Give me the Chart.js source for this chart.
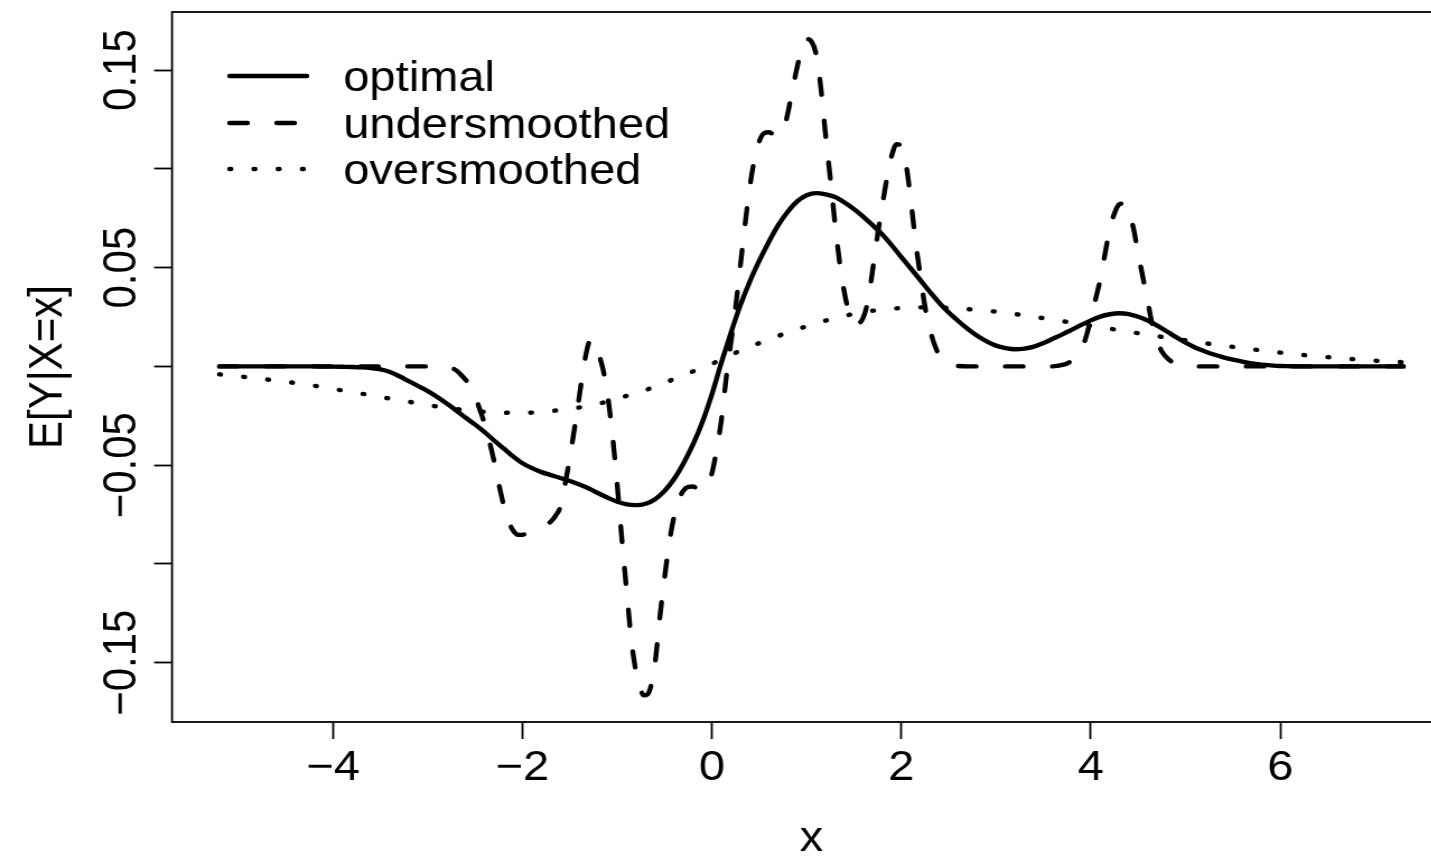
<!DOCTYPE html>
<html>
<head>
<meta charset="utf-8">
<title>E[Y|X=x]</title>
<script src="https://cdn.jsdelivr.net/npm/chart.js@4.4.1/dist/chart.umd.min.js"></script>
<style>
  html, body { margin: 0; padding: 0; background: #fff; overflow: hidden; }
  #wrap { position: relative; width: 1431px; height: 856px; overflow: hidden; }
  /* the reference picture is stretched sideways, so the canvas is too */
  #plot { position: absolute; left: 0; top: 0; transform: scaleX(1.12); transform-origin: 0 0; }
</style>
</head>
<body>
<div id="wrap"><canvas id="plot" width="1320" height="856"></canvas></div>
<script>
// ---- data ----
var xGrid = [
  -5.2, -5.1, -5.0, -4.9, -4.8, -4.7, -4.6, -4.5, -4.4, -4.3,
  -4.2, -4.1, -4.0, -3.9, -3.8, -3.7, -3.6, -3.5, -3.4, -3.3,
  -3.2, -3.1, -3.0, -2.9, -2.8, -2.7, -2.6, -2.5, -2.4, -2.3,
  -2.2, -2.1, -2.0, -1.9, -1.8, -1.7, -1.6, -1.5, -1.4, -1.3,
  -1.2, -1.1, -1.0, -0.9, -0.8, -0.7, -0.6, -0.5, -0.4, -0.3,
  -0.2, -0.1, 0.0, 0.1, 0.2, 0.3, 0.4, 0.5, 0.6, 0.7,
  0.8, 0.9, 1.0, 1.1, 1.2, 1.3, 1.4, 1.5, 1.6, 1.7,
  1.8, 1.9, 2.0, 2.1, 2.2, 2.3, 2.4, 2.5, 2.6, 2.7,
  2.8, 2.9, 3.0, 3.1, 3.2, 3.3, 3.4, 3.5, 3.6, 3.7,
  3.8, 3.9, 4.0, 4.1, 4.2, 4.3, 4.4, 4.5, 4.6, 4.7,
  4.8, 4.9, 5.0, 5.1, 5.2, 5.3, 5.4, 5.5, 5.6, 5.7,
  5.8, 5.9, 6.0, 6.1, 6.2, 6.3, 6.4, 6.5, 6.6, 6.7,
  6.8, 6.9, 7.0, 7.1, 7.2, 7.3
];

var optimalY = [
  0, 0, 0, 0, 0, 0, 0, 0, 0, 0,
  0, -0.0001, -0.0001, -0.0002, -0.0003, -0.0005, -0.0009, -0.0015, -0.0028, -0.0050,
  -0.0075, -0.0100, -0.0125, -0.0155, -0.0188, -0.0223, -0.0260, -0.0295, -0.0333, -0.0375,
  -0.0415, -0.0455, -0.0490, -0.0515, -0.0535, -0.0550, -0.0565, -0.0580, -0.0598, -0.0618,
  -0.0642, -0.0665, -0.0685, -0.0698, -0.0702, -0.0695, -0.0672, -0.0630, -0.0570, -0.0490,
  -0.0395, -0.0280, -0.0140, 0.0020, 0.0170, 0.0310, 0.0430, 0.0535, 0.0630, 0.0715,
  0.0783, 0.0835, 0.0866, 0.0877, 0.0871, 0.0857, 0.0830, 0.0796, 0.0757, 0.0713,
  0.0667, 0.0612, 0.0553, 0.0495, 0.0437, 0.0378, 0.0322, 0.0273, 0.0230, 0.0190,
  0.0155, 0.0127, 0.0105, 0.0093, 0.0087, 0.0090, 0.0100, 0.0118, 0.0140, 0.0162,
  0.0186, 0.0210, 0.0233, 0.0252, 0.0264, 0.0269, 0.0265, 0.0251, 0.0232, 0.0207,
  0.0178, 0.0148, 0.0120, 0.0096, 0.0077, 0.0060, 0.0046, 0.0034, 0.0024, 0.0015,
  0.0009, 0.0005, 0.0002, 0.0001, 0, 0, 0, 0, 0, 0,
  0, 0, 0, 0, 0, 0
];

var oversmoothedY = [
  -0.0040, -0.0045, -0.0050, -0.0055, -0.0060, -0.0066, -0.0072, -0.0078, -0.0084, -0.0091,
  -0.0098, -0.0106, -0.0114, -0.0122, -0.0130, -0.0138, -0.0146, -0.0155, -0.0163, -0.0171,
  -0.0179, -0.0187, -0.0196, -0.0203, -0.0210, -0.0216, -0.0221, -0.0226, -0.0230, -0.0232,
  -0.0234, -0.0235, -0.0235, -0.0234, -0.0231, -0.0226, -0.0221, -0.0215, -0.0208, -0.0200,
  -0.0190, -0.0177, -0.0163, -0.0149, -0.0135, -0.0120, -0.0102, -0.0083, -0.0064, -0.0045,
  -0.0025, -0.0005, 0.0013, 0.0036, 0.0058, 0.0079, 0.0099, 0.0118, 0.0136, 0.0154,
  0.0172, 0.0188, 0.0203, 0.0218, 0.0232, 0.0245, 0.0256, 0.0266, 0.0275, 0.0282,
  0.0288, 0.0292, 0.0296, 0.0298, 0.0299, 0.0299, 0.0298, 0.0296, 0.0293, 0.0290,
  0.0286, 0.0282, 0.0277, 0.0271, 0.0265, 0.0258, 0.0251, 0.0244, 0.0236, 0.0229,
  0.0222, 0.0214, 0.0206, 0.0198, 0.0191, 0.0183, 0.0175, 0.0168, 0.0160, 0.0153,
  0.0146, 0.0139, 0.0132, 0.0125, 0.0118, 0.0111, 0.0105, 0.0099, 0.0093, 0.0087,
  0.0081, 0.0076, 0.0070, 0.0065, 0.0060, 0.0055, 0.0051, 0.0047, 0.0043, 0.0039,
  0.0036, 0.0032, 0.0029, 0.0026, 0.0024, 0.0021
];

// the undersmoothed curve is wiggly, so it gets its own finer x list
var underX = [
  -5.2, -4.0, -3.0, -2.85, -2.8, -2.75, -2.7, -2.65, -2.6, -2.55,
  -2.5, -2.45, -2.4, -2.35, -2.3, -2.25, -2.2, -2.15, -2.1, -2.05,
  -2.0, -1.95, -1.9, -1.85, -1.8, -1.75, -1.7, -1.65, -1.6, -1.55,
  -1.5, -1.45, -1.4, -1.35, -1.3, -1.27, -1.24, -1.2, -1.15, -1.1,
  -1.05, -1.0, -0.95, -0.9, -0.85, -0.8, -0.75, -0.72, -0.68, -0.64,
  -0.6, -0.55, -0.5, -0.45, -0.4, -0.35, -0.3, -0.25, -0.2, -0.15,
  -0.1, -0.05, 0.0, 0.05, 0.1, 0.15, 0.2, 0.25, 0.3, 0.35,
  0.4, 0.45, 0.5, 0.55, 0.6, 0.65, 0.7, 0.75, 0.8, 0.85,
  0.9, 0.95, 1.0, 1.05, 1.1, 1.15, 1.2, 1.25, 1.3, 1.35,
  1.4, 1.45, 1.5, 1.55, 1.6, 1.65, 1.7, 1.75, 1.8, 1.85,
  1.9, 1.95, 2.0, 2.05, 2.1, 2.15, 2.2, 2.25, 2.3, 2.35,
  2.4, 2.45, 2.5, 2.6, 2.7, 3.6, 3.65, 3.7, 3.75, 3.8,
  3.85, 3.9, 3.95, 4.0, 4.05, 4.1, 4.15, 4.2, 4.25, 4.3,
  4.35, 4.4, 4.45, 4.5, 4.55, 4.6, 4.65, 4.7, 4.75, 4.8,
  4.85, 4.9, 5.0, 5.1, 6.0, 7.3
];
var underY = [
  0, 0, 0, 0, -0.0002, -0.0008, -0.0020, -0.0042, -0.0068, -0.0100,
  -0.0150, -0.0220, -0.0290, -0.0380, -0.0480, -0.0595, -0.0700, -0.0780, -0.0830, -0.0852,
  -0.0853, -0.0840, -0.0830, -0.0822, -0.0812, -0.0800, -0.0785, -0.0755, -0.0710, -0.0595,
  -0.0460, -0.0310, -0.0150, 0.0010, 0.0120, 0.0135, 0.0122, 0.0070, -0.0015, -0.0150,
  -0.0350, -0.0600, -0.0880, -0.1140, -0.1390, -0.1550, -0.1640, -0.1665, -0.1660, -0.1610,
  -0.1500, -0.1270, -0.1070, -0.0890, -0.0760, -0.0675, -0.0628, -0.0610, -0.0608, -0.0620,
  -0.0628, -0.0600, -0.0540, -0.0420, -0.0270, -0.0060, 0.0120, 0.0300, 0.0510, 0.0720,
  0.0910, 0.1050, 0.1140, 0.1180, 0.1185, 0.1175, 0.1168, 0.1185, 0.1280, 0.1400,
  0.1515, 0.1610, 0.1657, 0.1645, 0.1580, 0.1410, 0.1170, 0.0950, 0.0720, 0.0520,
  0.0370, 0.0270, 0.0225, 0.0220, 0.0250, 0.0340, 0.0500, 0.0670, 0.0820, 0.0960,
  0.1070, 0.1125, 0.1110, 0.1020, 0.0840, 0.0630, 0.0460, 0.0300, 0.0190, 0.0110,
  0.0055, 0.0025, 0.0010, 0.0002, 0, 0, 0.0003, 0.0008, 0.0015, 0.0030,
  0.0052, 0.0085, 0.0150, 0.0240, 0.0340, 0.0440, 0.0570, 0.0695, 0.0775, 0.0820,
  0.0825, 0.0780, 0.0700, 0.0570, 0.0450, 0.0330, 0.0210, 0.0130, 0.0075, 0.0045,
  0.0025, 0.0013, 0.0004, 0, 0, 0
];

var seriesNames = ['optimal', 'undersmoothed', 'oversmoothed'];
var yLabelValues = [0.15, 0.05, -0.05, -0.15];
var xTitle = 'x';
var yTitle = 'E[Y|X=x]';

var X_MIN = -5.7, X_MAX = 7.8;
var Y_MIN = -0.1800, Y_MAX = 0.1794;

var FONT_FAMILY = '"Liberation Sans", Arial, Helvetica, sans-serif';
var FONT = '42px ' + FONT_FAMILY;

function pairUp(xs, ys) {
  return ys.map(function (y, i) { return { x: xs[i], y: y }; });
}
function minusSign(s) {
  return String(s).replace('-', '\u2212');
}

// box, rotated y labels, axis titles and the legend, drawn R-style
var rStyle = {
  id: 'rStyle',
  afterDraw: function (chart) {
    var ctx = chart.ctx, a = chart.chartArea, ys = chart.scales.y;
    ctx.save();
    ctx.strokeStyle = '#000';
    ctx.fillStyle = '#000';
    ctx.lineWidth = 1.8;
    ctx.strokeRect(a.left, a.top, a.right - a.left, a.bottom - a.top);

    ctx.font = FONT;
    ctx.textBaseline = 'alphabetic';
    ctx.textAlign = 'center';
    yLabelValues.forEach(function (v) {
      ctx.save();
      ctx.translate(120.5, ys.getPixelForValue(v));
      ctx.rotate(-Math.PI / 2);
      ctx.fillText(minusSign(v.toFixed(2)), 0, 0);
      ctx.restore();
    });

    ctx.fillText(xTitle, (a.left + a.right) / 2, 851);
    ctx.save();
    ctx.translate(54.5, (a.top + a.bottom) / 2);
    ctx.rotate(-Math.PI / 2);
    ctx.fillText(yTitle, 0, 0);
    ctx.restore();

    // legend
    var rowsY = [76, 123, 169];
    ctx.textAlign = 'left';
    chart.data.datasets.forEach(function (ds, i) {
      ctx.save();
      ctx.lineWidth = ds.borderWidth;
      ctx.lineCap = 'round';
      ctx.setLineDash(ds.borderDash || []);
      ctx.beginPath();
      ctx.moveTo(205, rowsY[i]);
      ctx.lineTo(274, rowsY[i]);
      ctx.stroke();
      ctx.restore();
      ctx.fillText(ds.label, 306.5, rowsY[i] + 15);
    });
    ctx.restore();
  }
};

var lineBase = {
  borderColor: '#000',
  borderWidth: 4.4,
  pointRadius: 0,
  fill: false,
  cubicInterpolationMode: 'monotone',
  borderCapStyle: 'round',
  borderJoinStyle: 'round'
};

new Chart(document.getElementById('plot'), {
  type: 'line',
  data: {
    datasets: [
      Object.assign({}, lineBase, { label: seriesNames[0], data: pairUp(xGrid, optimalY), borderDash: [] }),
      Object.assign({}, lineBase, { label: seriesNames[1], data: pairUp(underX, underY), borderDash: [16, 26] }),
      Object.assign({}, lineBase, { label: seriesNames[2], data: pairUp(xGrid, oversmoothedY), borderDash: [1.2, 20.4] })
    ]
  },
  options: {
    responsive: false,
    animation: false,
    events: [],
    devicePixelRatio: 1,
    layout: { autoPadding: false, padding: { left: 0, top: 12, right: 24.7, bottom: 0 } },
    plugins: { legend: { display: false }, tooltip: { enabled: false } },
    scales: {
      x: {
        type: 'linear',
        min: X_MIN,
        max: X_MAX,
        afterFit: function (s) { s.height = 134; },
        border: { display: false },
        grid: { drawOnChartArea: false, drawTicks: true, tickLength: 17, tickWidth: 1.8, tickColor: '#000' },
        ticks: {
          stepSize: 2,
          includeBounds: false,
          autoSkip: false,
          minRotation: 0,
          maxRotation: 0,
          padding: 4,
          color: '#000',
          font: { family: FONT_FAMILY, size: 42 },
          callback: function (v) { return minusSign(v); }
        }
      },
      y: {
        type: 'linear',
        min: Y_MIN,
        max: Y_MAX,
        afterFit: function (s) { s.width = 153.6; },
        border: { display: false },
        grid: { drawOnChartArea: false, drawTicks: true, tickLength: 16, tickWidth: 1.8, tickColor: '#000' },
        ticks: {
          stepSize: 0.05,
          includeBounds: false,
          autoSkip: false,
          callback: function () { return ''; }
        }
      }
    }
  },
  plugins: [rStyle]
});
</script>
</body>
</html>
